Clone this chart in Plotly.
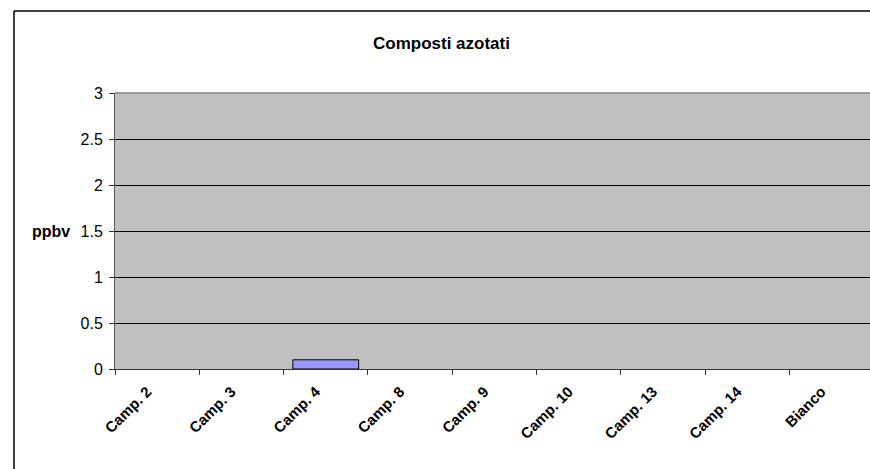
"""Bar chart: Composti azotati (ppbv) per campione."""

import plotly.graph_objects as go

categories = ["Camp. 2", "Camp. 3", "Camp. 4", "Camp. 8", "Camp. 9",
              "Camp. 10", "Camp. 13", "Camp. 14", "Bianco"]
values = [0, 0, 0.1, 0, 0, 0, 0, 0, 0]
y_ticks = [0, 0.5, 1, 1.5, 2, 2.5, 3]

W, H = 870, 469
L, R, T, B = 115, 0, 93, 100
plot_w = W - L - R
plot_h = H - T - B
cat_px = 84.3  # pixel width of one category in the source chart

FONT = "Liberation Sans, Arial, sans-serif"
NARROW = "Liberation Sans Narrow, Arial Narrow, sans-serif"

fig = go.Figure(go.Bar(
    x=categories,
    y=values,
    width=0.78,
    marker=dict(
        color="#9999FF",
        # empty bars get no outline, as in the source
        line=dict(color="black", width=[1 if v > 0 else 0 for v in values]),
    ),
))

# the original chart is cut off at the right edge, so the last slot is partly hidden
x_end = -0.5 + plot_w / cat_px

fig.update_layout(
    width=W,
    height=H,
    margin=dict(l=L, r=R, t=T, b=B),
    paper_bgcolor="white",
    plot_bgcolor="#C0C0C0",
    font=dict(family=FONT, size=16, color="black"),
    showlegend=False,
    xaxis=dict(
        type="category",
        range=[-0.5, x_end],
        tickson="boundaries",
        ticks="outside",
        ticklen=5,
        tickcolor="#333333",
        tickangle=-45,
        tickfont=dict(size=15, family=FONT, weight="bold"),
        ticklabelstandoff=7,
        ticklabelshift=-10,
        showline=True,
        linecolor="#333333",
        linewidth=1,
        showgrid=False,
    ),
    yaxis=dict(
        range=[0, 3],
        tickvals=y_ticks,
        ticktext=[f"{v:g}" for v in y_ticks],
        ticks="outside",
        ticklen=5,
        tickcolor="#333333",
        tickfont=dict(size=16),
        showline=True,
        linecolor="#555555",
        linewidth=1,
        showgrid=True,
        gridcolor="black",
        gridwidth=1,
        zeroline=False,
        ticklabelstandoff=3,
    ),
    annotations=[
        dict(text="<b>Composti azotati</b>", xref="paper", yref="paper",
             x=(441 - L) / plot_w, y=1 + (T - 44) / plot_h,
             showarrow=False, font=dict(size=17, family=NARROW),
             xanchor="center", yanchor="middle"),
        dict(text="<b>ppbv</b>", xref="paper", yref="y",
             x=(51 - L) / plot_w, y=1.5,
             showarrow=False, font=dict(size=16), xanchor="center", yanchor="middle"),
    ],
    shapes=[
        # outer chart border (left and top; right/bottom are off-image)
        dict(type="line", xref="paper", yref="paper",
             x0=(14 - L) / plot_w, x1=1,
             y0=1 + (T - 11) / plot_h, y1=1 + (T - 11) / plot_h,
             line=dict(color="black", width=1.5)),
        dict(type="line", xref="paper", yref="paper",
             x0=(14 - L) / plot_w, x1=(14 - L) / plot_w,
             y0=1 + (T - 11) / plot_h, y1=-(B + 5) / plot_h,
             line=dict(color="black", width=1.5)),
        # darker top edge of the plot area
        dict(type="line", xref="paper", yref="paper", x0=0, x1=1, y0=1, y1=1,
             line=dict(color="#808080", width=1.5)),
    ],
)

fig.write_html(
    "out.html",
    config={"displayModeBar": False},
    post_script="document.body.style.margin='0';document.body.style.overflow='hidden';",
)
